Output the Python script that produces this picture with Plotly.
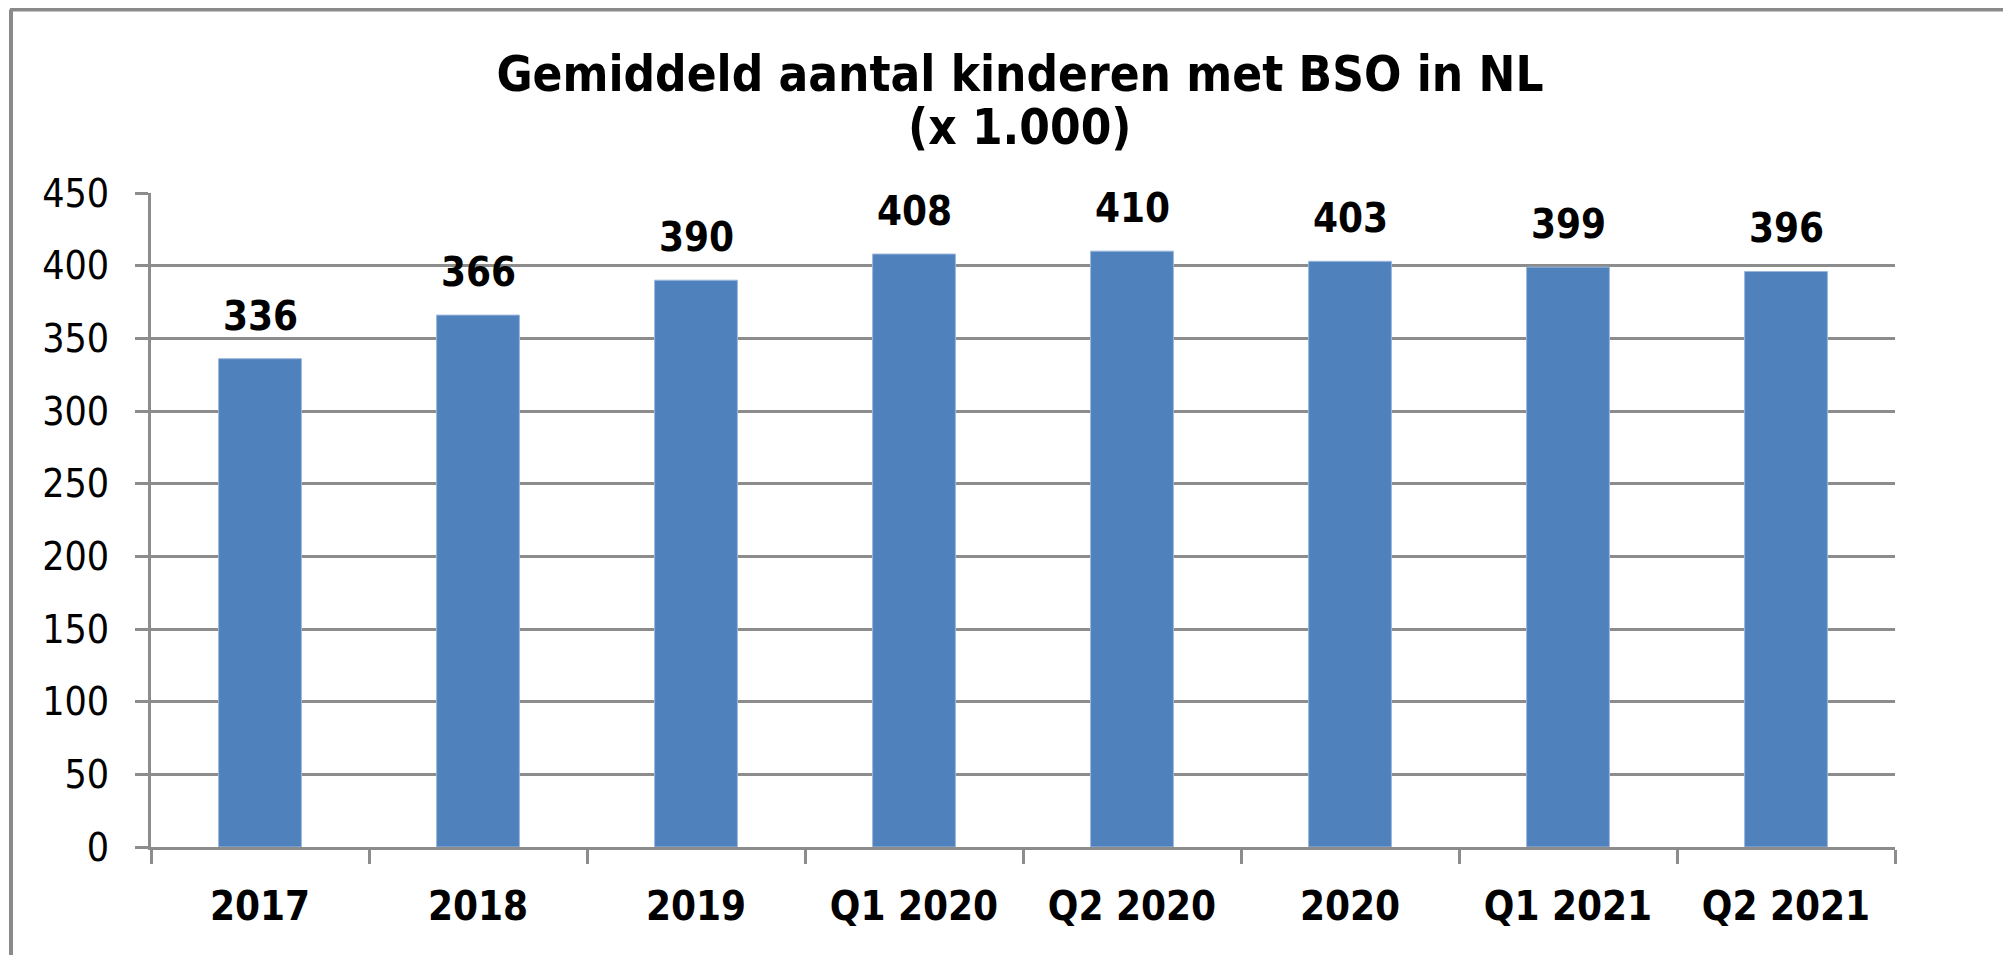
import plotly.graph_objects as go

periods = ["2017", "2018", "2019", "Q1 2020", "Q2 2020", "2020", "Q1 2021", "Q2 2021"]
children_k = [336, 366, 390, 408, 410, 403, 399, 396]
y_ticks = [0, 50, 100, 150, 200, 250, 300, 350, 400, 450]

FONT = "DejaVu Sans Condensed, Liberation Sans Narrow, DejaVu Sans, sans-serif"
GRID = "#8c8c8c"
BAR = "#4F81BD"

# page body has an 8px margin, so the figure is a bit smaller than the window
W, H = 2003, 947
L, R, T, B = 143, 116, 185, 108
pw, ph = W - L - R, H - T - B


def px_x(p):
    return (p - L) / pw


def px_y(p):
    return (H - B - p) / ph


fig = go.Figure()
fig.add_trace(
    go.Bar(
        x=periods,
        y=children_k,
        marker={"color": BAR, "line": {"width": 1, "color": "#9bb7dd"}},
        width=0.38,
        showlegend=False,
        hoverinfo="x+y",
    )
)

# value labels above bars (category index, numeric-looking names confuse the axis)
for i, val in enumerate(children_k):
    fig.add_annotation(
        x=i,
        y=val,
        text=f"<b>{val}</b>",
        showarrow=False,
        yanchor="bottom",
        yshift=18,
        font={"family": FONT, "size": 40, "color": "black"},
    )

# second title line
fig.add_annotation(
    xref="paper", yref="paper",
    x=px_x(1012), y=px_y(120),
    text="<b>(x 1.000)</b>",
    showarrow=False,
    xanchor="center", yanchor="middle",
    font={"family": FONT, "size": 49, "color": "black"},
)

# chart frame: top and left edges
fig.add_shape(type="line", xref="paper", yref="paper",
              x0=px_x(2), x1=px_x(W + 5), y0=px_y(1.5), y1=px_y(1.5),
              line={"color": "#8a8a8a", "width": 4})
fig.add_shape(type="line", xref="paper", yref="paper",
              x0=px_x(3), x1=px_x(3), y0=px_y(1.5), y1=px_y(H + 5),
              line={"color": "#8a8a8a", "width": 4})

fig.update_layout(
    width=W,
    height=H,
    paper_bgcolor="white",
    plot_bgcolor="white",
    margin={"l": L, "r": R, "t": T, "b": B, "autoexpand": False},
    font={"family": FONT, "color": "black"},
    title={
        "text": "<b>Gemiddeld aantal kinderen met BSO in NL</b>",
        "x": px_x(1012),
        "xanchor": "center",
        "xref": "paper",
        "y": 1 - 66 / H,
        "yanchor": "middle",
        "font": {"family": FONT, "size": 49, "color": "black"},
    },
    bargap=0.62,
)

fig.update_yaxes(
    range=[0, 450],
    tickvals=y_ticks,
    showgrid=True,
    gridcolor=GRID,
    gridwidth=3,
    showline=True,
    linecolor=GRID,
    linewidth=3,
    ticks="outside",
    ticklen=13,
    tickwidth=3,
    tickcolor=GRID,
    ticklabelstandoff=18,
    tickfont={"family": FONT, "size": 39, "color": "black"},
    zeroline=False,
)
fig.update_xaxes(
    type="category",
    range=[-0.5, len(periods) - 0.5],
    showline=True,
    linecolor=GRID,
    linewidth=3,
    ticks="outside",
    tickson="boundaries",
    ticklen=14,
    tickwidth=3,
    tickcolor=GRID,
    ticklabelstandoff=22,
    tickangle=0,
    tickfont={"family": FONT, "size": 40, "color": "black", "weight": "bold"},
    showgrid=False,
)

fig.write_html("out.html")
